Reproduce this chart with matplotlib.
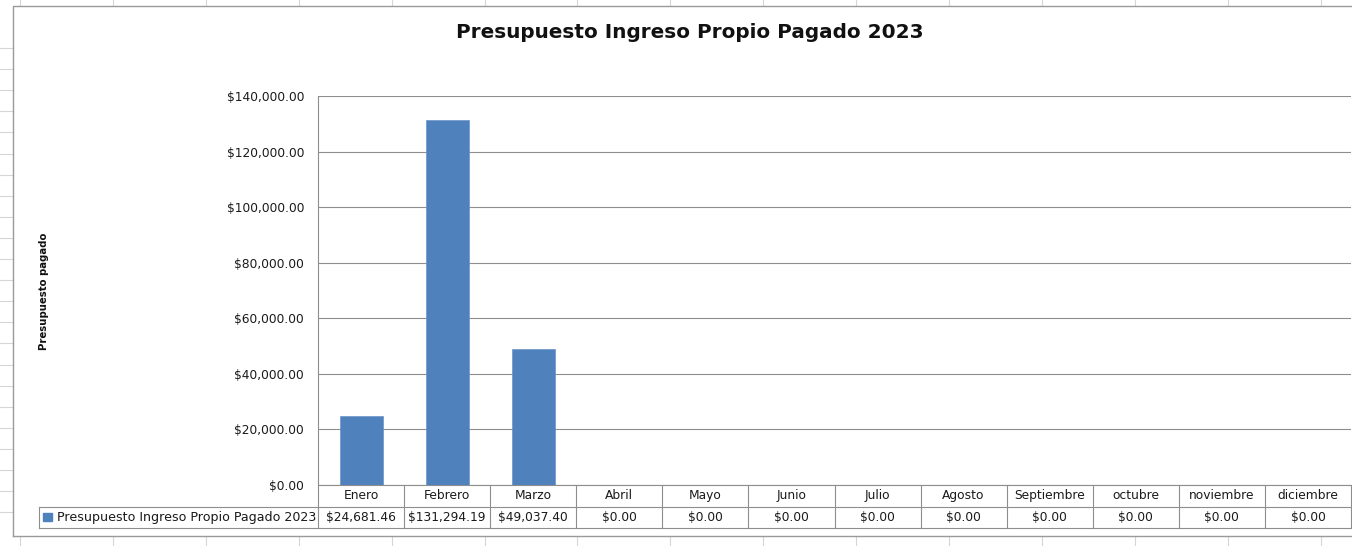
import matplotlib.pyplot as plt
import matplotlib.transforms as mtransforms
from matplotlib.lines import Line2D
from matplotlib.patches import Rectangle

# Data
months = ["Enero", "Febrero", "Marzo", "Abril", "Mayo", "Junio", "Julio",
          "Agosto", "Septiembre", "octubre", "noviembre", "diciembre"]
paid = [24681.46, 131294.19, 49037.40, 0, 0, 0, 0, 0, 0, 0, 0, 0]
series_name = "Presupuesto Ingreso Propio Pagado 2023"
y_ticks = [0, 20000, 40000, 60000, 80000, 100000, 120000, 140000]

W, H = 1352, 546
BAR = "#4F81BD"
GRID = "#8e8e8e"
TXT = "#1a1a1a"
plt.rcParams["font.family"] = ["DejaVu Sans"]

fig = plt.figure(figsize=(W / 100, H / 100), dpi=100)


def px(x, y):
    return x / W, 1 - y / H


# spreadsheet background grid
for gx in [20 + 92.9 * k for k in range(15)]:
    fig.add_artist(Line2D([gx / W] * 2, [1 - 537 / H, 0], color="#d6d6d6", lw=0.8))
    fig.add_artist(Line2D([gx / W] * 2, [1, 1 - 5 / H], color="#d6d6d6", lw=0.8))
for gy in [48 + 21.1 * k for k in range(23)]:
    fig.add_artist(Line2D([0, 13 / W], [1 - gy / H] * 2, color="#d6d6d6", lw=0.8))

# chart area border
fig.add_artist(Line2D([13 / W, 13 / W, 1.0], [1 - 536 / H, 1 - 6 / H, 1 - 6 / H], color="#9a9a9a", lw=1.0))
fig.add_artist(Line2D([13 / W, 1.0], [1 - 536 / H] * 2, color="#9a9a9a", lw=1.0))

ax = fig.add_axes([318 / W, 1 - 485 / H, 1033 / W, 389 / H])
x = range(len(months))
ax.bar(x, paid, width=0.5, color=BAR, edgecolor="#6a95c8", linewidth=0.5, zorder=3)
ax.set_xlim(-0.5, len(months) - 0.5)
ax.set_ylim(0, 140000)
ax.set_yticks(y_ticks)
ax.set_yticklabels(["${:,.2f}".format(v) for v in y_ticks], fontsize=8.8, color=TXT)
ax.set_xticks([])
ax.tick_params(axis="y", length=0, pad=10)
ax.grid(axis="y", color=GRID, lw=0.8, zorder=0)
for s in ["top", "right"]:
    ax.spines[s].set_visible(False)
ax.spines["left"].set_color(GRID)
ax.spines["bottom"].set_color(GRID)
ax.spines["left"].set_linewidth(0.8)

fig.text(*px(690, 33), "Presupuesto Ingreso Propio Pagado 2023", fontsize=14.4,
         fontweight="bold", ha="center", va="center", color="#111111")
fig.text(*px(44, 291), "Presupuesto pagado", fontsize=7.3, fontweight="bold",
         rotation=90, ha="center", va="center", color="#111111")

# data table under the axis
tr = mtransforms.blended_transform_factory(ax.transData, fig.transFigure)
r0, r1, r2 = 1 - 485 / H, 1 - 506.5 / H, 1 - 528 / H
kw = dict(color=GRID, lw=0.8, clip_on=False)
fig.add_artist(Line2D([318 / W, 1.0], [r1, r1], **kw))
fig.add_artist(Line2D([39 / W, 1.0], [r2, r2], **kw))
fig.add_artist(Line2D([39 / W, 39 / W], [r1, r2], **kw))
fig.add_artist(Line2D([39 / W, 318 / W], [r1, r1], **kw))
for i in range(len(months) + 1):
    ax.add_line(Line2D([i - 0.5, i - 0.5], [r0, r2], transform=tr, **kw))
for i, (m, v) in enumerate(zip(months, paid)):
    ax.text(i, (r0 + r1) / 2, m, transform=tr, ha="center", va="center",
            fontsize=8.8, color=TXT, clip_on=False)
    ax.text(i, (r1 + r2) / 2, "${:,.2f}".format(v), transform=tr, ha="center",
            va="center", fontsize=8.8, color=TXT, clip_on=False)
fig.add_artist(Rectangle(px(43, 521), 9 / W, 8 / H, color=BAR))
fig.text(*px(57, 517.5), series_name, fontsize=9.1, ha="left", va="center", color=TXT)

fig.savefig("out.png", dpi=100)
